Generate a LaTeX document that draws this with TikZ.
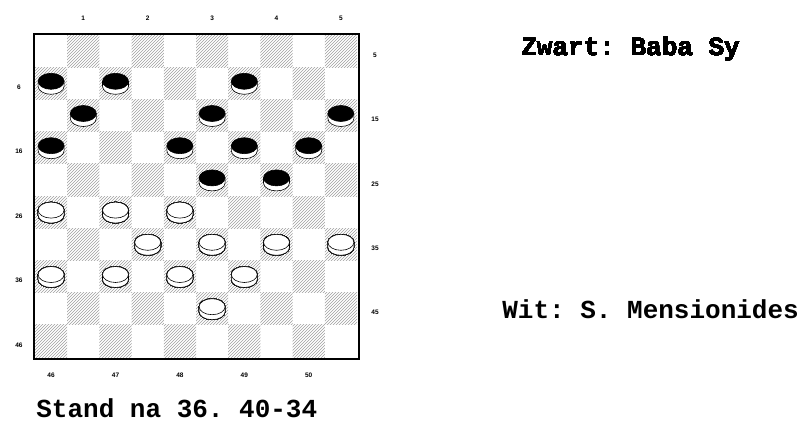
\documentclass[tikz,border=0pt]{standalone}
\usepackage{fontspec}
\setmonofont{Liberation Mono}
\newfontfamily\coordfont{Liberation Sans}
\usetikzlibrary{patterns}
\tikzset{every picture/.style={line width=0.75pt}}
\tikzset{
  darksq/.style={pattern=north east lines, pattern color=gray!75},
  caption/.style={anchor=base west, inner sep=0pt, font=\ttfamily\bfseries\fontsize{26}{27}\selectfont},
  coordlabel/.style={inner sep=0pt, font=\coordfont\bfseries\fontsize{6.5}{7}\selectfont},
  disc/.style={draw=black, line width=0.6pt},
}
% one man on the board: #1 top colour, #2 column, #3 row
\newcommand{\putman}[3]{%
  \begin{scope}[shift={({35+(#2-0.5)*32.2},{35+(#3-0.5)*32.2})}]
    \draw[disc, fill=white] (-13,-2) -- (-13,3) arc[start angle=180, end angle=0, x radius=13, y radius=8] -- (13,-2) -- cycle;
    \draw[disc, fill=#1] (0,-2) ellipse[x radius=13, y radius=8];
  \end{scope}}

\begin{document}
\begin{tikzpicture}[x=1pt, y=-1pt]
  \useasboundingbox (0,0) rectangle (810,421);
  % board
  \foreach \r in {1,...,10}
    \foreach \c in {1,...,10} {
      \pgfmathtruncatemacro{\odd}{mod(\r+\c,2)}
      \ifnum\odd=1
        \fill[darksq] ({35+(\c-1)*32.2},{35+(\r-1)*32.2}) rectangle ++(32.2,32.2);
      \fi
    }
  \draw[line width=2pt] (33.5,33.5) rectangle (358.5,358.5);
  % square numbers round the board
  \foreach \n [count=\i] in {1,2,3,4,5} {
    \node[coordlabel] (top\n) at ({35+(2*\i-0.5)*32.2},18) {\n};
    \node[coordlabel] (bot\n) at ({35+(2*\i-1.5)*32.2},375) {\the\numexpr45+\i\relax};
    \node[coordlabel] (left\n) at (19,{35+(2*\i-0.5)*32.2+4}) {\the\numexpr10*\i-4\relax};
    \node[coordlabel] (right\n) at (375,{35+(2*\i-1.5)*32.2+4}) {\the\numexpr10*\i-5\relax};
  }
  % black men
  \foreach \c/\r in {1/2,3/2,7/2,2/3,6/3,10/3,1/4,5/4,7/4,9/4,6/5,8/5}
    \putman{black}{\c}{\r}
  % white men
  \foreach \c/\r in {1/6,3/6,5/6,4/7,6/7,8/7,10/7,1/8,3/8,5/8,7/8,6/9}
    \putman{white}{\c}{\r}
  % captions
  \node[caption] (zwart) at (521,55) {Zwart: Baba Sy};
  \node[caption] (wit) at (502,318) {Wit: S. Mensionides};
  \node[caption] (stand) at (36,417) {Stand na 36. 40-34};
\end{tikzpicture}
\end{document}
